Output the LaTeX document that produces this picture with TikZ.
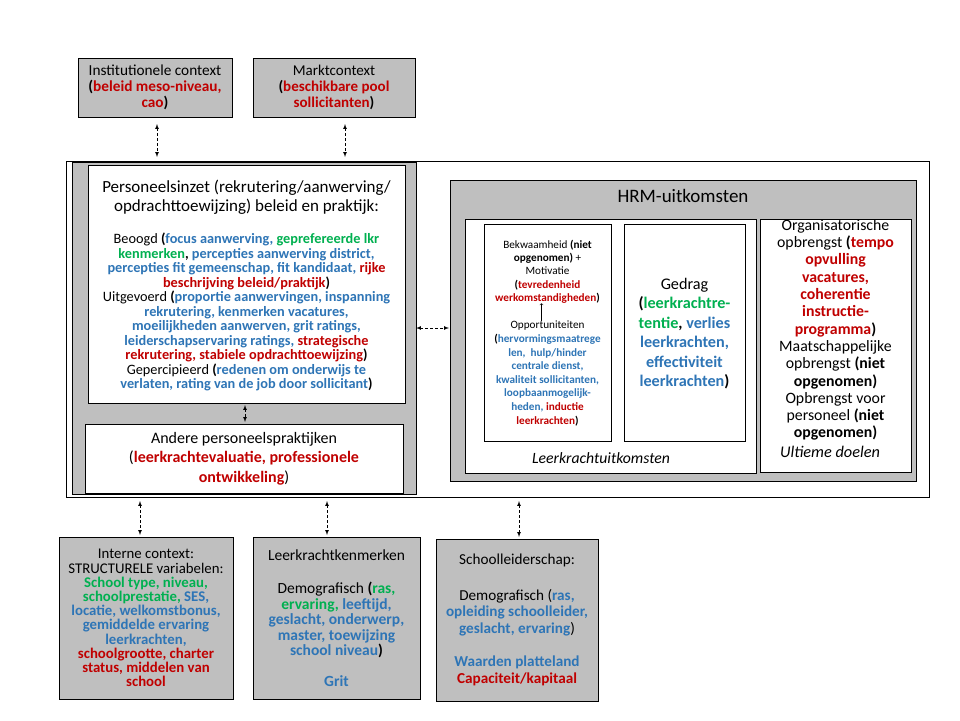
\documentclass[tikz,border=0pt]{standalone}
\usepackage{fontspec}
\setmainfont{Carlito}

\definecolor{rood}{RGB}{192,0,0}
\definecolor{blauw}{RGB}{46,117,182}
\definecolor{groen}{RGB}{0,176,80}
\definecolor{grijs}{RGB}{191,191,191}

\newcommand{\rood}[1]{\textbf{\color{rood}#1}}
\newcommand{\blauw}[1]{\textbf{\color{blauw}#1}}
\newcommand{\groen}[1]{\textbf{\color{groen}#1}}

\begin{document}
\begin{tikzpicture}[x=1pt, y=-1pt]
\tikzset{ >=latex, inner sep=0pt, outer sep=0pt,
  vak/.style={draw, line width=0.8pt, rectangle},
  grijsvak/.style={vak, fill=grijs},
  witvak/.style={vak, fill=white},
  tekst/.style={align=center},
  pijl/.style={<->, line width=0.7pt, dash pattern=on 3pt off 2pt},
}
\useasboundingbox (0,0) rectangle (960,720);

%\draw [lightgray, dashed](0,0) grid[step=20] (960,720);

% context boven
\node [grijsvak, minimum width=154, minimum height=59, tekst, font=\fontsize{15.3}{16}\selectfont] (inst) at (155,87.5)
  {Institutionele context\\\textbf{(}\rood{beleid meso-niveau,}\\\rood{cao}\textbf{)}};
\node [grijsvak, minimum width=162, minimum height=59, tekst, font=\fontsize{15}{16}\selectfont] (markt) at (334,87.5)
  {Marktcontext\\\textbf{(}\rood{beschikbare pool}\\\rood{sollicitanten}\textbf{)}};

% hoofdkader
\node [vak, fill=white, minimum width=863, minimum height=336] (buiten) at (497.5,329) {};
\node [grijsvak, minimum width=344, minimum height=332] (links) at (244,328) {};
\node [witvak, minimum width=317, minimum height=238] (pers) at (246.5,284) {};
\node [tekst, font=\fontsize{17}{19}\selectfont] (perstitel) at (246.5,197.5)
  {Personeelsinzet (rekrutering/aanwerving/\\opdrachttoewijzing) beleid en praktijk:};
\node [tekst, font=\fontsize{14.3}{14.5}\selectfont] (persinhoud) at (246.5,312)
  {Beoogd \textbf{(}\blauw{focus aanwerving,} \groen{geprefereerde lkr}\\
   \groen{kenmerken}\textbf{,} \blauw{percepties aanwerving district,}\\
   \blauw{percepties fit gemeenschap, fit kandidaat,} \rood{rijke}\\
   \rood{beschrijving beleid/praktijk}\textbf{)}\\
   Uitgevoerd \textbf{(}\blauw{proportie aanwervingen, inspanning}\\
   \blauw{rekrutering, kenmerken vacatures,}\\
   \blauw{moeilijkheden aanwerven, grit ratings,}\\
   \blauw{leiderschapservaring ratings,} \rood{strategische}\\
   \rood{rekrutering, stabiele opdrachttoewijzing}\textbf{)}\\
   Gepercipieerd \textbf{(}\blauw{redenen om onderwijs te}\\
   \blauw{verlaten, rating van de job door sollicitant}\textbf{)}};
\node [witvak, minimum width=318, minimum height=69, tekst, font=\fontsize{16}{19.5}\selectfont] (andere) at (244,458.5)
  {Andere personeelspraktijken\\(\rood{leerkrachtevaluatie, professionele}\\\rood{ontwikkeling})};

% uitkomsten
\node [grijsvak, minimum width=466, minimum height=301] (hrm) at (683,330.5) {};
\node [font=\fontsize{19}{22}\selectfont] (hrmtitel) at (683,196) {HRM-uitkomsten};
\node [witvak, minimum width=291, minimum height=254] (leerk) at (610.5,346) {};
\node [font=\fontsize{15.7}{18}\selectfont\itshape] (leerktitel) at (601,458) {Leerkrachtuitkomsten};
\node [witvak, minimum width=127, minimum height=217] (bekw) at (547.5,332.5) {};
\node [tekst, font=\fontsize{11.2}{13.3}\selectfont] (motiv) at (547.5,271.5)
  {Bekwaamheid \textbf{(niet}\\\textbf{opgenomen)} +\\Motivatie\\
   \textbf{(}\rood{tevredenheid}\\\rood{werkomstandigheden}\textbf{)}};
\node [tekst, font=\fontsize{11.2}{13.6}\selectfont] (oppor) at (547.5,373.5)
  {Opportuniteiten\\\textbf{(}\blauw{hervormingsmaatrege}\\\blauw{len, \ hulp/hinder}\\
   \blauw{centrale dienst,}\\\blauw{kwaliteit sollicitanten,}\\\blauw{loopbaanmogelijk-}\\
   \blauw{heden,} \rood{inductie}\\\rood{leerkrachten}\textbf{)}};
\draw [-to, line width=0.5pt] (oppor.north) ++(-6,0) coordinate (o1) -- (o1 |- motiv.south);
\node [witvak, minimum width=121, minimum height=217] (gedrag) at (684.5,332.5) {};
\node [tekst, font=\fontsize{16.2}{19.4}\selectfont] (gedragtekst) at (684.5,333.5)
  {Gedrag\\\textbf{(}\groen{leerkrachtre-}\\\groen{tentie}\textbf{,} \blauw{verlies}\\
   \blauw{leerkrachten,}\\\blauw{effectiviteit}\\\blauw{leerkrachten}\textbf{)}};
\node [witvak, minimum width=151, minimum height=253] (org) at (835.5,345.5) {};
\node [tekst, font=\fontsize{15.8}{17.3}\selectfont] (orgtekst) at (835.5,330)
  {Organisatorische\\opbrengst \textbf{(}\rood{tempo}\\\rood{opvulling}\\\rood{vacatures,}\\
   \rood{coherentie}\\\rood{instructie-}\\\rood{programma}\textbf{)}\\Maatschappelijke\\
   opbrengst \textbf{(niet}\\\textbf{opgenomen)}\\Opbrengst voor\\personeel \textbf{(niet}\\
   \textbf{opgenomen)}};
\node [font=\fontsize{16.3}{18}\selectfont\itshape] (ultiem) at (830,452) {Ultieme doelen};

% context onder
\node [grijsvak, minimum width=174, minimum height=162, tekst, font=\fontsize{14.8}{14.2}\selectfont] (intern) at (146,618)
  {Interne context:\\STRUCTURELE variabelen:\\\groen{School type, niveau,}\\
   \groen{schoolprestatie,} \blauw{SES,}\\\blauw{locatie, welkomstbonus,}\\
   \blauw{gemiddelde ervaring}\\\blauw{leerkrachten,}\\\rood{schoolgrootte, charter}\\
   \rood{status, middelen van}\\\rood{school}};
\node [grijsvak, minimum width=167, minimum height=162, tekst, font=\fontsize{15.5}{15.5}\selectfont] (lkenm) at (336.5,618)
  {Leerkrachtkenmerken\\[18pt]Demografisch \textbf{(}\groen{ras,}\\
   \groen{ervaring,} \blauw{leeftijd,}\\\blauw{geslacht, onderwerp,}\\
   \blauw{master, toewijzing}\\\blauw{school niveau}\textbf{)}\\[15pt]\blauw{Grit}};
\node [grijsvak, minimum width=162, minimum height=162, tekst, font=\fontsize{15.2}{16.5}\selectfont] (schooll) at (517,620)
  {Schoolleiderschap:\\[19pt]Demografisch (\blauw{ras,}\\\blauw{opleiding schoolleider,}\\
   \blauw{geslacht, ervaring})\\[17pt]\blauw{Waarden platteland}\\\rood{Capaciteit/kapitaal}};

% pijlen
\coordinate (p1) at (157,0);
\coordinate (p2) at (345,0);
\coordinate (p3) at (140,0);
\coordinate (p4) at (327,0);
\coordinate (p5) at (519,0);
\coordinate (p6) at (245,0);

\draw [pijl, shorten <=7pt, shorten >=4pt] (inst.south -| p1) -- (buiten.north -| p1);
\draw [pijl, shorten <=7pt, shorten >=4pt] (markt.south -| p2) -- (buiten.north -| p2);
\draw [pijl, shorten <=4pt, shorten >=2pt] (buiten.south -| p3) -- (intern.north -| p3);
\draw [pijl, shorten <=4pt, shorten >=2pt] (buiten.south -| p4) -- (lkenm.north -| p4);
\draw [pijl, shorten <=4pt, shorten >=2pt] (buiten.south -| p5) -- (schooll.north -| p5);
\draw [pijl, shorten <=2pt, shorten >=2pt] (pers.south -| p6) -- (andere.north -| p6);
\draw [pijl, shorten >=1pt] (links.east) -- (hrm.west |- links.east);

\end{tikzpicture}
\end{document}
